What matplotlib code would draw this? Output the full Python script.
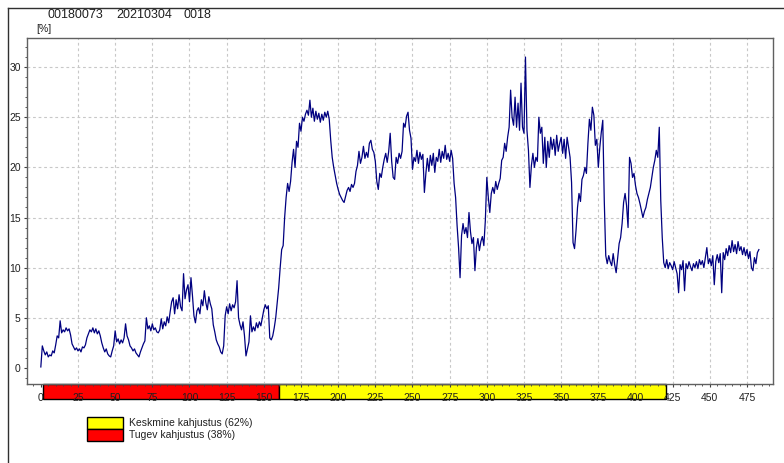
import numpy as np
import matplotlib
matplotlib.use('Agg')
import matplotlib.pyplot as plt
from matplotlib.lines import Line2D
from matplotlib.patches import Rectangle
from matplotlib.ticker import MultipleLocator
import matplotlib.transforms as mtransforms

plt.rcParams['font.family'] = ['Liberation Sans', 'DejaVu Sans']

# header fields
sample_id = '00180073'
sample_date = '20210304'
sample_no = '0018'

# damage readings [%], one value per unit along the sample
damage = [
    0.1, 2.2, 1.7, 1.3, 1.6, 1.1, 1.3, 1.2, 1.7, 1.5,
    2.3, 3.2, 3.0, 4.7, 3.5, 3.8, 3.6, 4.0, 3.7, 3.9,
    3.3, 2.4, 2.1, 1.8, 2.0, 1.7, 1.9, 1.6, 2.1, 2.0,
    2.3, 3.0, 3.4, 3.8, 3.6, 4.0, 3.5, 3.9, 3.4, 3.7,
    3.2, 2.5, 2.0, 1.6, 1.9, 1.4, 1.2, 1.1, 1.7, 2.2,
    3.7, 2.6, 2.9, 2.4, 2.8, 2.5, 3.0, 4.4, 3.2, 2.8,
    2.2, 2.0, 1.7, 1.9, 1.5, 1.3, 1.1, 1.6, 2.0, 2.4,
    2.7, 5.0, 3.9, 4.2, 3.7, 4.4, 3.8, 4.0, 3.6, 3.5,
    3.8, 4.9, 3.9, 4.6, 4.2, 5.1, 4.5, 5.6, 6.6, 7.0,
    5.4, 6.8, 5.9, 7.3, 6.1, 5.7, 9.4, 6.9, 7.8, 8.3,
    6.6, 9.0, 7.2, 5.2, 4.5, 5.7, 6.0, 5.4, 6.8, 6.2,
    7.7, 6.5, 5.8, 7.1, 6.4, 5.9, 4.3, 3.6, 2.8, 2.4,
    2.1, 1.6, 1.4, 2.2, 5.2, 6.1, 5.4, 6.4, 5.7, 6.3,
    6.0, 6.6, 8.7, 5.0, 4.3, 3.8, 4.6, 3.2, 1.2, 1.9,
    2.6, 5.2, 3.6, 4.1, 3.7, 4.5, 4.0, 4.6, 4.2, 5.0,
    5.8, 6.3, 5.9, 6.2, 3.0, 2.8, 3.2, 4.0, 5.0, 6.5,
    8.0, 10.0, 11.8, 12.2, 15.0, 17.0, 18.4, 17.6, 18.6, 20.5,
    21.8, 20.0, 22.6, 22.0, 24.4, 23.6, 25.0, 24.6, 25.3, 25.7,
    25.2, 26.7, 25.0, 25.9, 24.6, 25.6, 24.8, 25.4, 24.5, 25.3,
    24.7, 25.5, 25.0, 25.6, 24.8, 22.7, 21.0, 20.0, 19.2, 18.4,
    17.8, 17.3, 17.0, 16.7, 16.5, 17.1, 17.7, 18.0, 17.6, 18.3,
    18.0, 18.4, 19.6, 20.2, 21.6, 20.4, 21.0, 22.1, 20.9, 21.5,
    21.0, 22.4, 22.7, 21.8, 21.5, 20.6, 18.6, 17.8, 19.4, 19.0,
    20.0, 20.8, 21.4, 20.5, 21.6, 23.4, 20.6, 19.0, 18.8, 21.0,
    20.4, 21.4, 20.9, 21.6, 24.4, 24.0, 25.1, 25.5, 23.7, 22.9,
    19.8, 21.0, 20.6, 21.7, 20.4, 21.5, 20.8, 21.3, 17.5, 19.4,
    20.9, 19.6, 21.2, 20.2, 21.4, 19.5, 21.0, 20.6, 21.8, 20.5,
    21.6, 20.9, 22.2, 20.8, 21.4, 20.6, 21.7, 20.9, 18.4, 17.0,
    14.2, 12.0, 9.0, 13.2, 14.4, 13.4, 14.0, 13.0, 15.5, 13.6,
    12.4, 13.0, 9.7, 12.0, 12.9, 11.7, 12.6, 13.1, 12.2, 14.7,
    19.0, 17.0, 15.5, 17.4, 18.0, 17.4, 18.6, 17.8, 18.4, 18.9,
    20.7, 21.0, 22.4, 21.6, 23.0, 24.0, 27.7, 25.0, 24.2, 27.0,
    24.0, 26.4, 23.7, 28.4, 24.0, 23.4, 31.0, 23.7, 21.7, 18.0,
    20.2, 21.4, 20.0, 21.0, 20.6, 25.0, 23.4, 24.0, 20.4, 23.0,
    20.0, 22.6, 21.0, 23.0, 21.8, 22.8, 21.2, 23.2, 21.6, 22.4,
    23.0, 21.4, 22.8, 20.9, 23.0, 22.0, 21.0, 18.5, 12.5, 11.9,
    13.7, 16.0, 17.4, 16.6, 18.8, 19.2, 20.0, 19.4, 22.4, 24.8,
    23.7, 26.0, 25.2, 22.2, 22.8, 20.0, 22.0, 23.5, 24.7, 16.7,
    11.2, 10.4, 11.2, 10.6, 10.2, 11.4, 10.3, 9.5, 11.0, 12.4,
    13.0, 14.4, 16.5, 17.4, 16.2, 14.0, 21.0, 20.4, 19.0, 19.4,
    18.2, 17.4, 17.0, 16.4, 15.7, 15.0, 15.6, 16.0, 16.8, 17.4,
    18.0, 19.0, 20.0, 20.7, 21.7, 21.0, 24.0, 16.7, 13.0, 10.5,
    10.0, 10.8, 9.9, 10.5, 10.2, 9.8, 10.6, 10.0, 9.4, 7.5,
    10.3, 9.8, 10.7, 7.7, 10.4, 9.9, 10.6, 10.1, 9.7, 10.4,
    10.0, 10.6, 9.9, 10.8, 10.3, 10.7, 10.0, 11.0, 12.0, 10.4,
    10.9, 10.2, 11.2, 8.3, 10.6, 11.3, 10.5, 11.4, 7.5, 11.5,
    10.8, 11.9, 11.2, 12.2, 11.5, 12.7, 11.6, 12.3, 11.4, 12.6,
    11.7, 12.1, 11.3, 12.0, 11.2, 11.8, 10.9, 11.6, 10.0, 9.7,
    11.0, 10.4, 11.5, 11.8,
]
position = np.arange(len(damage))

# damage classes along the sample: (start, end, colour, label)
zones = [
    (1.5, 160.4, '#ff0000', 'Tugev kahjustus (38%)'),
    (160.4, 420.5, '#ffff00', 'Keskmine kahjustus (62%)'),
]
legend_order = [1, 0]

W, H = 784, 463
fig = plt.figure(figsize=(W / 100, H / 100), dpi=100)
fig.patch.set_facecolor('white')

ax_l, ax_r, ax_t, ax_b = 27, 773, 38, 384
ax = fig.add_axes([ax_l / W, 1 - ax_b / H, (ax_r - ax_l) / W, (ax_b - ax_t) / H])

ax.plot(position, damage, color='#000080', lw=0.9, zorder=3)

ax.set_xlim(-9.3, 492.5)
ax.set_ylim(-1.6, 32.9)
ax.set_xticks(np.arange(0, 476, 25))
ax.set_yticks(np.arange(0, 31, 5))
ax.xaxis.set_minor_locator(MultipleLocator(5))
ax.yaxis.set_minor_locator(MultipleLocator(1))

# dashed grid, skipping the zero lines
for gx in np.arange(25, 476, 25):
    ax.axvline(gx, color='#c8c8c8', lw=0.8, ls=(0, (2.5, 2.5)), zorder=1)
for gy in np.arange(5, 31, 5):
    ax.axhline(gy, color='#c8c8c8', lw=0.8, ls=(0, (2.5, 2.5)), zorder=1)

for sp in ax.spines.values():
    sp.set_color('#606060')
    sp.set_linewidth(1.0)

ax.tick_params(axis='both', which='major', labelsize=7.5, color='#404040',
               labelcolor='#202020', length=2.5, width=0.8)
ax.tick_params(axis='both', which='minor', color='#404040', length=1.5, width=0.6)
ax.tick_params(axis='x', which='major', pad=4)
ax.tick_params(axis='y', which='major', pad=2)

# colour band under the x axis
trans = mtransforms.blended_transform_factory(ax.transData, ax.transAxes)
band_h = 15 / (ax_b - ax_t)
for x0, x1, col, _ in zones:
    ax.add_patch(Rectangle((x0, -band_h), x1 - x0, band_h, transform=trans,
                           facecolor=col, edgecolor='black', lw=1.0,
                           clip_on=False, zorder=0.5))

# header
ty = 1 - 15 / H
fig.text(47 / W, ty, sample_id, fontsize=9, va='center', ha='left', color='#202020')
fig.text(116 / W, ty, sample_date, fontsize=9, va='center', ha='left', color='#202020')
fig.text(183 / W, ty, sample_no, fontsize=9, va='center', ha='left', color='#202020')
fig.text(36 / W, 1 - 29 / H, '[%]', fontsize=7.5, va='center', ha='left', color='#202020')

# legend boxes
for i, zi in enumerate(legend_order):
    _, _, col, lab = zones[zi]
    top = 417 + i * 12
    fig.add_artist(Rectangle((87 / W, 1 - (top + 12) / H), 36 / W, 12 / H,
                             transform=fig.transFigure, facecolor=col,
                             edgecolor='black', lw=1.0))
    fig.text(129 / W, 1 - (top + 6) / H, lab, fontsize=7.5, va='center',
             ha='left', color='#202020')

# outer frame
fig.add_artist(Line2D([8 / W, 8 / W], [0, 1 - 8 / H], transform=fig.transFigure,
                      color='#303030', lw=1.0))
fig.add_artist(Line2D([8 / W, 1], [1 - 8 / H, 1 - 8 / H], transform=fig.transFigure,
                      color='#303030', lw=1.0))

fig.savefig('out.png', dpi=100)
